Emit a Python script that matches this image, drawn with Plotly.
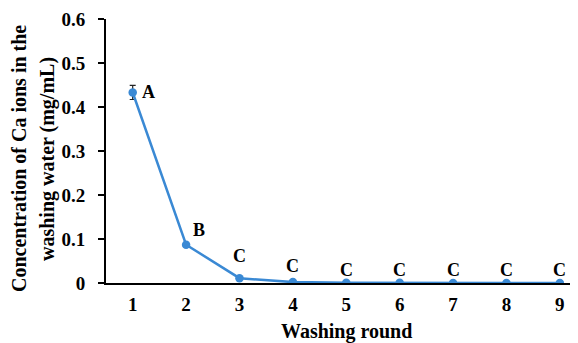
import plotly.graph_objects as go

rounds = [1, 2, 3, 4, 5, 6, 7, 8, 9]
conc = [0.433, 0.087, 0.011, 0.002, 0.0005, 0.0003, 0.0002, 0.0002, 0.0002]
err = [0.016, 0, 0, 0, 0, 0, 0, 0, 0]
letters = ["A", "B", "C", "C", "C", "C", "C", "C", "C"]
y_ticks = [0, 0.1, 0.2, 0.3, 0.4, 0.5, 0.6]
y_ticktext = ["0", "0.1", "0.2", "0.3", "0.4", "0.5", "0.6"]
y_title_lines = ["Concentration of Ca ions in the", "washing water (mg/mL)"]
x_title = "Washing round"

color = "#3a89d4"
ff = "Liberation Serif"

# page has an 8px body margin: shift the figure's plot area up/left by 8px
PAD = 8
L, T, PW, PH = 106 - PAD, 19 - PAD, 472, 264
W, H = 578, 343

fig = go.Figure()
fig.add_trace(go.Scatter(
    x=rounds, y=conc, mode="lines+markers",
    line=dict(color=color, width=2.5),
    marker=dict(color=color, size=8.5),
    error_y=dict(type="data", array=err, visible=True, color="#222222",
                 thickness=1.2, width=3),
    showlegend=False,
))

offsets = {0: (16, 0), 1: (13, 15), 2: (0, 22), 3: (0, 16)}
for i, (xv, yv, lab) in enumerate(zip(rounds, conc, letters)):
    xs, ys = offsets.get(i, (0, 13))
    fig.add_annotation(x=xv, y=yv, text=f"<b>{lab}</b>", showarrow=False,
                       xshift=xs, yshift=ys,
                       font=dict(family=ff, size=18, color="black"))

# y title lines at page x 19 and 47 (page coords; plot left at page 106)
for px, line in zip([19, 47], y_title_lines):
    fig.add_annotation(xref="paper", yref="paper", x=(px - 106) / PW,
                       y=(283 - 159) / PH, xanchor="center", yanchor="middle",
                       text=f"<b>{line}</b>", textangle=-90, showarrow=False,
                       font=dict(family=ff, size=20, color="black"))

fig.add_annotation(xref="paper", yref="paper", x=(346 - 106) / PW,
                   y=(283 - 331) / PH, xanchor="center", yanchor="middle",
                   text=f"<b>{x_title}</b>", showarrow=False,
                   font=dict(family=ff, size=20, color="black"))

fig.update_layout(
    width=W, height=H,
    margin=dict(l=L, r=W - L - PW, t=T, b=H - T - PH, pad=0, autoexpand=False),
    paper_bgcolor="white", plot_bgcolor="white",
    font=dict(family=ff, size=19, color="black"),
    xaxis=dict(range=[0.5, 9.34], tickmode="array", tickvals=rounds,
               ticktext=[f"<b>{r}</b>" for r in rounds],
               tickfont=dict(family=ff, size=19, color="black"),
               showgrid=False, zeroline=False, showline=True,
               linecolor="black", linewidth=2, ticks="", automargin=False,
               ticklabelstandoff=3),
    yaxis=dict(range=[0, 0.6], tickmode="array", tickvals=y_ticks,
               ticktext=[f"<b>{t}</b>" for t in y_ticktext],
               tickfont=dict(family=ff, size=19, color="black"),
               showgrid=False, zeroline=False, showline=True,
               linecolor="black", linewidth=2, ticks="outside",
               ticklen=6, tickwidth=1.5, tickcolor="black", automargin=False,
               ticklabelstandoff=9),
)

fig.write_html("out.html")
